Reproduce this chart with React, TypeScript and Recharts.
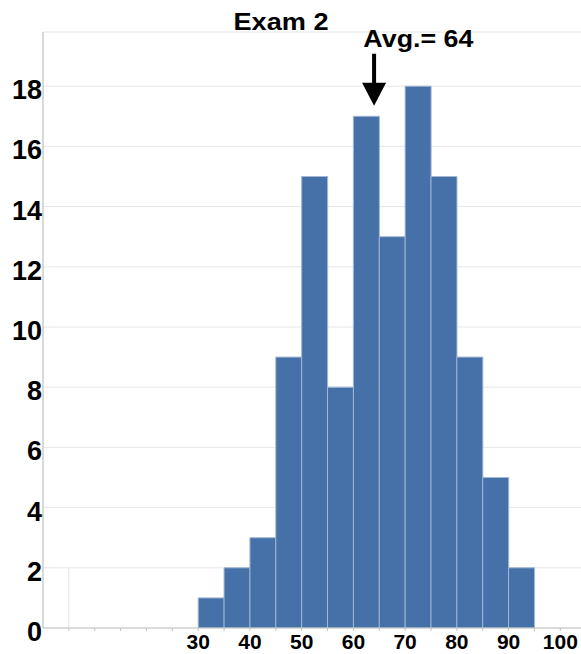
import React from "react";
import { BarChart, Bar, XAxis, YAxis, CartesianGrid, ReferenceDot, ReferenceLine } from "recharts";

const binMids = [32.5, 37.5, 42.5, 47.5, 52.5, 57.5, 62.5, 67.5, 72.5, 77.5, 82.5, 87.5, 92.5];
const counts = [1, 2, 3, 9, 15, 8, 17, 13, 18, 15, 9, 5, 2];
const xTicks = [5, 10, 15, 20, 25, 30, 35, 40, 45, 50, 55, 60, 65, 70, 75, 80, 85, 90, 95, 100];
const xLabels = [30, 40, 50, 60, 70, 80, 90, 100];
const yTicks = [0, 2, 4, 6, 8, 10, 12, 14, 16, 18];
const avgScore = 64;
const arrowTipCount = 17.35;
const title = "Exam 2";
const avgLabel = "Avg.= 64";

const data = binMids.map((m, i) => ({ mid: m, count: counts[i] }));

const FONT = "'Liberation Sans', Arial, Helvetica, sans-serif";

const XTick = (props: any) => {
  const { x, y, payload } = props;
  if (!xLabels.includes(payload.value)) return null;
  return (
    <text x={x} y={y + 16} textAnchor="middle" fontFamily={FONT} fontWeight="bold" fontSize={21} fill="#000">
      {payload.value}
    </text>
  );
};

const YTick = (props: any) => {
  const { x, y, payload } = props;
  return (
    <text x={x} y={y + 13} textAnchor="end" fontFamily={FONT} fontWeight="bold" fontSize={27} fill="#000">
      {payload.value}
    </text>
  );
};

const ArrowShape = (props: any) => {
  const { cx, cy } = props;
  if (cx == null || cy == null) return null;
  return (
    <g>
      <rect x={cx - 2} y={cy - 52} width={4} height={31} fill="#000" />
      <polygon points={`${cx - 12},${cy - 23} ${cx + 12},${cy - 23} ${cx},${cy}`} fill="#000" />
      <text
        x={cx - 10.7}
        y={cy - 58.5}
        fontFamily={FONT}
        fontWeight="bold"
        fontSize={24}
        fill="#000"
        textLength={110}
        lengthAdjust="spacingAndGlyphs"
      >
        {avgLabel}
      </text>
    </g>
  );
};

export default function App() {
  return (
    <div style={{ position: "absolute", left: 0, top: 0, width: 581, height: 654 }}>
      <style>{`html,body{overflow:hidden}`}</style>
      <BarChart
        width={581}
        height={654}
        data={data}
        margin={{ top: 32, right: 0, bottom: 0, left: 0 }}
        barCategoryGap={0}
        barGap={0}
      >
        <CartesianGrid vertical={false} stroke="#e6e6e6" strokeWidth={1} />
        <XAxis
          dataKey="mid"
          type="number"
          domain={[0, 104]}
          ticks={xTicks}
          interval={0}
          allowDataOverflow
          height={26}
          tickSize={3}
          tickMargin={2}
          stroke="#c4c4c4"
          axisLine={{ stroke: "#c4c4c4" }}
          tickLine={{ stroke: "#c4c4c4" }}
          tick={<XTick />}
        />
        <YAxis
          type="number"
          domain={[0, 19.8]}
          ticks={yTicks}
          interval={0}
          allowDataOverflow
          width={43}
          tickSize={0}
          tickMargin={1}
          tickLine={false}
          axisLine={{ stroke: "#b4b4b4" }}
          tick={<YTick />}
        />
        <ReferenceLine
          segment={[{ x: 5, y: 0 }, { x: 5, y: 2 }]}
          stroke="#e0e0e0"
          strokeWidth={1}
        />
        <Bar
          dataKey="count"
          fill="#4571a8"
          stroke="#a3b8d4"
          strokeWidth={1}
          isAnimationActive={false}
        />
        <ReferenceDot x={avgScore} y={arrowTipCount} shape={<ArrowShape />} ifOverflow="visible" />
      </BarChart>
      <svg
        width={581}
        height={48}
        style={{ position: "absolute", left: 0, top: 0, pointerEvents: "none" }}
      >
        <text
          x={281}
          y={30}
          textAnchor="middle"
          fontFamily={FONT}
          fontWeight="bold"
          fontSize={23}
          fill="#000"
          textLength={95}
          lengthAdjust="spacingAndGlyphs"
        >
          {title}
        </text>
      </svg>
    </div>
  );
}
